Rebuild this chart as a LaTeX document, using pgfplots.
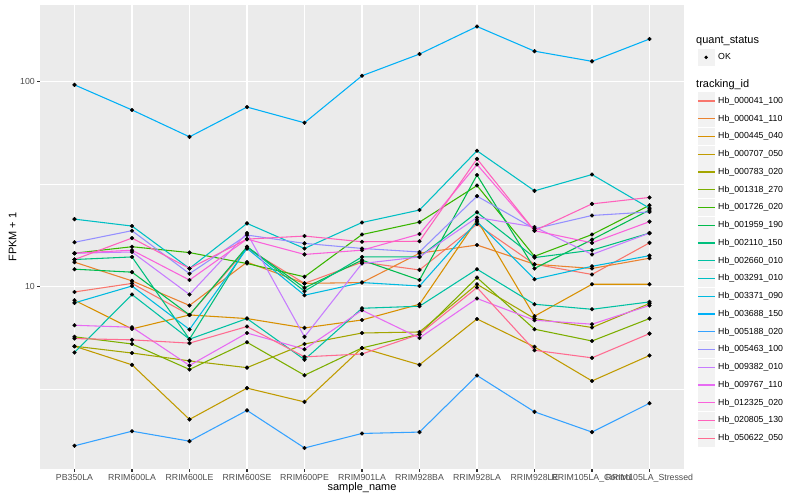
\documentclass[border=0pt]{standalone}
\usepackage{fontspec}
\setmainfont{Liberation Sans}
\usepackage{pgfplots}
\usepackage{pgfplotstable}
\pgfplotsset{compat=1.18}

% ggplot hue palette, 20 levels
\definecolor{c1}{HTML}{F8766D}
\definecolor{c2}{HTML}{EA8331}
\definecolor{c3}{HTML}{D89000}
\definecolor{c4}{HTML}{C09B00}
\definecolor{c5}{HTML}{A3A500}
\definecolor{c6}{HTML}{7CAE00}
\definecolor{c7}{HTML}{39B600}
\definecolor{c8}{HTML}{00BB4E}
\definecolor{c9}{HTML}{00BF7D}
\definecolor{c10}{HTML}{00C1A3}
\definecolor{c11}{HTML}{00BFC4}
\definecolor{c12}{HTML}{00BAE0}
\definecolor{c13}{HTML}{00B0F6}
\definecolor{c14}{HTML}{35A2FF}
\definecolor{c15}{HTML}{9590FF}
\definecolor{c16}{HTML}{C77CFF}
\definecolor{c17}{HTML}{E76BF3}
\definecolor{c18}{HTML}{FA62DB}
\definecolor{c19}{HTML}{FF62BC}
\definecolor{c20}{HTML}{FF6C91}
\definecolor{panel}{HTML}{EBEBEB}
\definecolor{keybg}{HTML}{F2F2F2}
\definecolor{grey20}{HTML}{333333}
\definecolor{grey30}{HTML}{4D4D4D}

% FPKM + 1, one row per sample, one column per tracking_id
\pgfplotstableread{
x  s1   s2   s3   s4   s5   s6   s7   s8   s9   s10  s11  s12  s13   s14  s15  s16  s17  s18  s19  s20
0  9.45 13.2 8.61 5.14 5.14 5.71 14.6 12.2 13.6 4.79 21.4 8.36 96.6  1.68 16.5 14.6 6.50 14.6 13.6 5.60
1  10.4 10.7 6.24 4.17 4.76 5.27 15.7 11.8 14.0 9.18 19.8 10.1 72.9  1.98 18.8 14.8 6.36 15.1 17.3 5.52
2  7.30 8.12 7.30 2.26 4.36 3.96 14.7 7.30 5.56 5.56 12.3 6.20 53.9  1.77 11.6 9.18 4.14 10.8 12.3 5.32
3  15.4 13.2 7.01 3.21 4.04 5.37 13.0 15.7 15.7 7.01 20.4 15.4 75.3  2.50 17.9 18.3 5.96 17.1 17.1 6.41
4  10.4 10.4 6.31 2.75 5.27 3.71 11.2 9.89 9.53 4.42 15.4 9.11 63.1  1.64 16.3 5.71 4.97 14.4 17.7 4.56
5  13.2 10.5 6.90 5.04 5.96 5.04 18.0 13.5 14.0 7.87 20.6 10.5 107   1.93 15.4 13.0 7.70 15.1 16.6 4.71
6  12.1 14.6 8.23 4.17 6.03 5.88 20.7 10.8 14.0 8.05 23.7 10.1 136.5 1.96 14.8 14.0 5.64 18.1 16.7 5.88
7  20.2 16.0 21.2 6.98 10.3 11.1 31.2 35.1 23.1 12.2 46.1 20.8 186   3.70 27.7 21.8 8.78 39.5 42.1 9.93
8  12.9 12.9 7.20 5.10 7.01 6.22 14.1 12.3 13.9 8.23 29.4 10.9 141   2.46 19.2 19.6 6.88 18.8 18.8 4.91
9  11.5 12.3 10.3 3.48 6.34 5.45 18.0 17.0 15.1 7.78 35.3 12.6 125.8 1.96 22.3 14.4 6.58 16.4 25.4 4.51
10 16.4 13.8 10.3 4.63 8.30 7.01 25.0 23.7 18.3 8.45 24.2 14.2 161.6 2.71 23.2 18.3 8.12 20.8 27.3 5.92
}\fpkm

\pgfplotsset{
  keyline/.style={legend image code/.code={
      \path[draw=none,fill=none] (0bp,-8.875bp) rectangle (20.7bp,8.875bp);
      \fill[keybg,draw=none] (0bp,-8.64bp) rectangle (17.28bp,8.64bp);
      \draw (0.3bp,0bp) -- (16.98bp,0bp);}},
  qtitle/.style={legend image code/.code={\path[draw=none,fill=none] (0bp,-8bp) rectangle (0bp,8bp);}},
  okkey/.style={legend image code/.code={
      \path[draw=none,fill=none] (0bp,-18.65bp) rectangle (20.7bp,8.65bp);
      \fill[keybg,draw=none] (0bp,-8.64bp) rectangle (17.28bp,8.64bp);
      \fill[black,draw=none] (8.64bp,0bp) circle[radius=1.9bp];}},
  ttitle/.style={legend image code/.code={\path[draw=none,fill=none] (0bp,-7.5bp) rectangle (0bp,8.65bp);}},
}

\newcommand{\ttl}[1]{\fontsize{11}{13}\selectfont\hspace*{-22bp}#1}

\begin{document}
\begin{tikzpicture}
\useasboundingbox (0,0) rectangle (800bp,500bp);
\begin{axis}[
  at={(40bp,31bp)}, anchor=south west,
  scale only axis, width=644bp, height=464bp,
  xmin=-0.6, xmax=10.6,
  ymode=log, ymin=1.295, ymax=236.8,
  xtick={0,...,10},
  xticklabels={PB350LA,RRIM600LA,RRIM600LE,RRIM600SE,RRIM600PE,RRIM901LA,RRIM928BA,RRIM928LA,RRIM928LE,RRIM105LA\_Control,RRIM105LA\_Stressed},
  ytick={10,100}, yticklabels={10,100},
  minor ytick={3.1623,31.623},
  xmajorgrids, ymajorgrids, yminorgrids,
  major grid style={white, line width=1.07bp},
  minor grid style={white, line width=0.53bp},
  axis background/.style={fill=panel},
  axis line style={draw=none},
  tick align=outside, tick pos=left,
  major tick length=2.75bp, minor tick length=0pt,
  every tick/.append style={grey20, line width=1.07bp},
  ticklabel style={font=\fontsize{8.8}{10}\selectfont, text=grey30, inner sep=0pt},
  xticklabel style={anchor=north, yshift=-2.2bp},
  yticklabel style={anchor=east, xshift=-2.2bp},
  xlabel={sample\_name}, ylabel={FPKM + 1},
  xlabel style={at={(axis description cs:0.5,-0.0474)}, anchor=base, font=\fontsize{11}{13}\selectfont},
  ylabel style={at={(axis description cs:-0.0427,0.5)}, anchor=center, font=\fontsize{11}{13}\selectfont},
  legend style={at={(1.02065,0.9403)}, anchor=north west, draw=none, fill=none,
    inner sep=0pt, outer sep=0pt, row sep=0pt, column sep=0pt,
    nodes={inner sep=0pt, anchor=west},
    font=\fontsize{8.8}{10}\selectfont},
  legend cell align=left,
]
\pgfplotsinvokeforeach{1,...,20}{
  \addplot[c#1, mark=none, line width=1.07bp, forget plot] table[x=x, y=s#1]{\fpkm};
}
\pgfplotsinvokeforeach{1,...,20}{
  \addplot[only marks, mark=*, mark size=1.9bp, black, forget plot] table[x=x, y=s#1]{\fpkm};
}
\addlegendimage{qtitle}
\addlegendimage{okkey}
\addlegendimage{ttitle}
\pgfplotsinvokeforeach{1,...,20}{
  \addlegendimage{keyline, c#1, line width=1.07bp}
}
\legend{\ttl{quant\_status},OK,\ttl{tracking\_id},
  Hb\_000041\_100,Hb\_000041\_110,Hb\_000445\_040,Hb\_000707\_050,Hb\_000783\_020,
  Hb\_001318\_270,Hb\_001726\_020,Hb\_001959\_190,Hb\_002110\_150,Hb\_002660\_010,
  Hb\_003291\_010,Hb\_003371\_090,Hb\_003688\_150,Hb\_005188\_020,Hb\_005463\_100,
  Hb\_009382\_010,Hb\_009767\_110,Hb\_012325\_020,Hb\_020805\_130,Hb\_050622\_050}
\end{axis}
\end{tikzpicture}
\end{document}
